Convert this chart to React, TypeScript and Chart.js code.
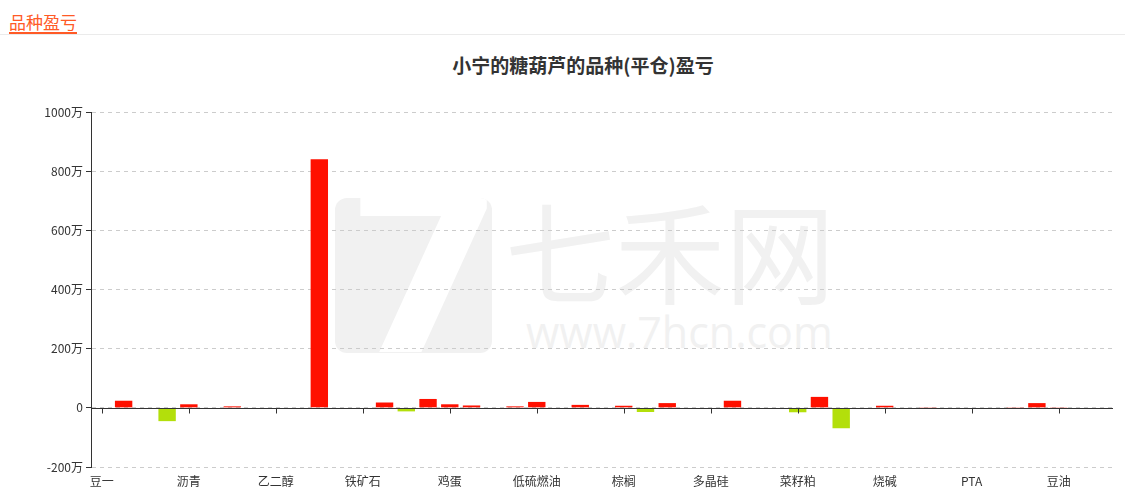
import React, { useEffect, useRef } from 'react';
import { Chart, registerables } from 'chart.js';

Chart.register(...registerables);

// ---- data ----
const categories: string[] = [
  '豆一', '玉米', '豆粕', '生猪', '沥青', '燃油', '橡胶', '苯乙烯',
  '乙二醇', '塑料', '甲醇', '纯碱', '铁矿石', '焦炭', '焦煤', '螺纹钢',
  '鸡蛋', '苹果', '红枣', '棉花', '低硫燃油', '原油', '白银', '黄金',
  '棕榈', '豆二', '菜油', '白糖', '多晶硅', '工业硅', '碳酸锂', '尿素',
  '菜籽粕', '玻璃', '纸浆', '热卷', '烧碱', 'PVC', '聚丙烯', '短纤',
  'PTA', '硅铁', '锰硅', '沪铜', '豆油', '沪铝', '沪锌',
];
// profit / loss in 万 (10k)
const values: number[] = [
  0, 24, -2, -45, 12, -2, 5, -4,
  0, -2, 840, 0, -2, 18, -12, 30,
  12, 8, -4, 5, 20, -2, 10, -4,
  7, -14, 16, -4, -2, 24, 0, -2,
  -15, 37, -69, 0, 7, -1, 1, 0,
  -4, 0, 1, 16, 1, 0, -2,
];
const yMin = -200;
const yMax = 1000;
const yStep = 200;
const labelEvery = 4;

const RED = '#ff1000';
const GREEN = '#b3df0b';
const FONT = "'Noto Sans CJK SC', 'Microsoft YaHei', sans-serif";

export default function App() {
  const ref = useRef<HTMLCanvasElement>(null);

  useEffect(() => {
    const zeroAxis = {
      id: 'zeroAxis',
      afterDatasetsDraw(chart: any) {
        const { ctx, chartArea, scales } = chart;
        const y0 = Math.round(scales.y.getPixelForValue(0)) + 0.5;
        ctx.save();
        ctx.strokeStyle = '#333';
        ctx.lineWidth = 1;
        ctx.beginPath();
        ctx.moveTo(chartArea.left, y0);
        ctx.lineTo(chartArea.right, y0);
        categories.forEach((_c, i) => {
          if (i % labelEvery === 0) {
            const x = Math.round(scales.x.getPixelForValue(i)) + 0.5;
            ctx.moveTo(x, y0);
            ctx.lineTo(x, y0 + 5);
          }
        });
        ctx.stroke();
        ctx.restore();
      },
    };

    const chart = new Chart(ref.current as HTMLCanvasElement, {
      type: 'bar',
      data: {
        labels: categories,
        datasets: [
          {
            data: values,
            backgroundColor: values.map((v) => (v >= 0 ? RED : GREEN)),
            categoryPercentage: 1,
            barPercentage: 0.8,
          },
        ],
      },
      options: {
        responsive: false,
        animation: false,
        layout: { padding: { top: 112, right: 12, left: 0, bottom: 0 } },
        plugins: {
          legend: { display: false },
          tooltip: { enabled: false },
          title: { display: false },
        },
        scales: {
          x: {
            grid: { display: false, drawTicks: false },
            border: { display: false },
            ticks: {
              autoSkip: false,
              maxRotation: 0,
              minRotation: 0,
              padding: 7,
              color: '#333',
              font: { family: FONT, size: 12 },
              callback: (_v: any, i: number) => (i % labelEvery === 0 ? categories[i] : ''),
            },
            afterFit: (s: any) => {
              s.height = 36;
            },
          },
          y: {
            min: yMin,
            max: yMax,
            ticks: {
              stepSize: yStep,
              padding: 3,
              color: '#333',
              font: { family: FONT, size: 12 },
              callback: (v: any) => (Number(v) === 0 ? '0' : `${v}万`),
            },
            grid: {
              color: '#cccccc',
              lineWidth: 1,
              drawTicks: true,
              tickLength: 5,
              tickColor: '#333',
              tickBorderDash: [],
            },
            border: { display: true, color: '#333', width: 1, dash: [4, 4] },
            afterFit: (s: any) => {
              s.width = 91;
            },
          },
        },
      },
      plugins: [zeroAxis],
    } as any);
    return () => chart.destroy();
  }, []);

  const wm = '#f1f1f1';

  return (
    <div
      style={{
        position: 'absolute',
        left: 0,
        top: 0,
        width: 1125,
        height: 503,
        background: '#fff',
        overflow: 'hidden',
        fontFamily: FONT,
      }}
    >
      {/* watermark */}
      <div
        style={{
          position: 'absolute',
          left: 335,
          top: 198,
          width: 157,
          height: 155,
          borderRadius: 12,
          background: wm,
          overflow: 'hidden',
        }}
      >
        <div
          style={{
            position: 'absolute',
            left: 10,
            top: -40,
            fontSize: 230,
            fontWeight: 700,
            color: '#fff',
            fontFamily: 'DejaVu Sans, sans-serif',
            lineHeight: '230px',
          }}
        >
          7
        </div>
      </div>
      <div
        style={{
          position: 'absolute',
          left: 505,
          top: 183,
          fontSize: 110,
          lineHeight: '130px',
          color: wm,
          whiteSpace: 'nowrap',
          letterSpacing: 0,
        }}
      >
        七禾网
      </div>
      <div
        style={{
          position: 'absolute',
          left: 526,
          top: 307,
          fontSize: 43,
          lineHeight: '50px',
          color: wm,
          whiteSpace: 'nowrap',
          fontFamily: "'Open Sans', sans-serif",
        }}
      >
        www.7hcn.com
      </div>

      {/* header */}
      <div
        style={{
          position: 'absolute',
          left: 0,
          top: 34,
          width: 1125,
          height: 1,
          background: '#ebebeb',
        }}
      />
      <div
        style={{
          position: 'absolute',
          left: 9,
          top: 11,
          fontSize: 17,
          lineHeight: '22px',
          color: '#ff5a26',
          whiteSpace: 'nowrap',
        }}
      >
        品种盈亏
      </div>
      <div
        style={{
          position: 'absolute',
          left: 9,
          top: 32,
          width: 68,
          height: 2,
          background: '#ff5a26',
        }}
      />

      {/* title */}
      <div
        style={{
          position: 'absolute',
          left: 383,
          top: 53,
          width: 400,
          textAlign: 'center',
          fontSize: 19,
          fontWeight: 700,
          lineHeight: '24px',
          color: '#333',
          whiteSpace: 'nowrap',
        }}
      >
        小宁的糖葫芦的品种(平仓)盈亏
      </div>

      <canvas
        ref={ref}
        width={1125}
        height={503}
        style={{ position: 'absolute', left: 0, top: 0, width: 1125, height: 503 }}
      />
    </div>
  );
}
